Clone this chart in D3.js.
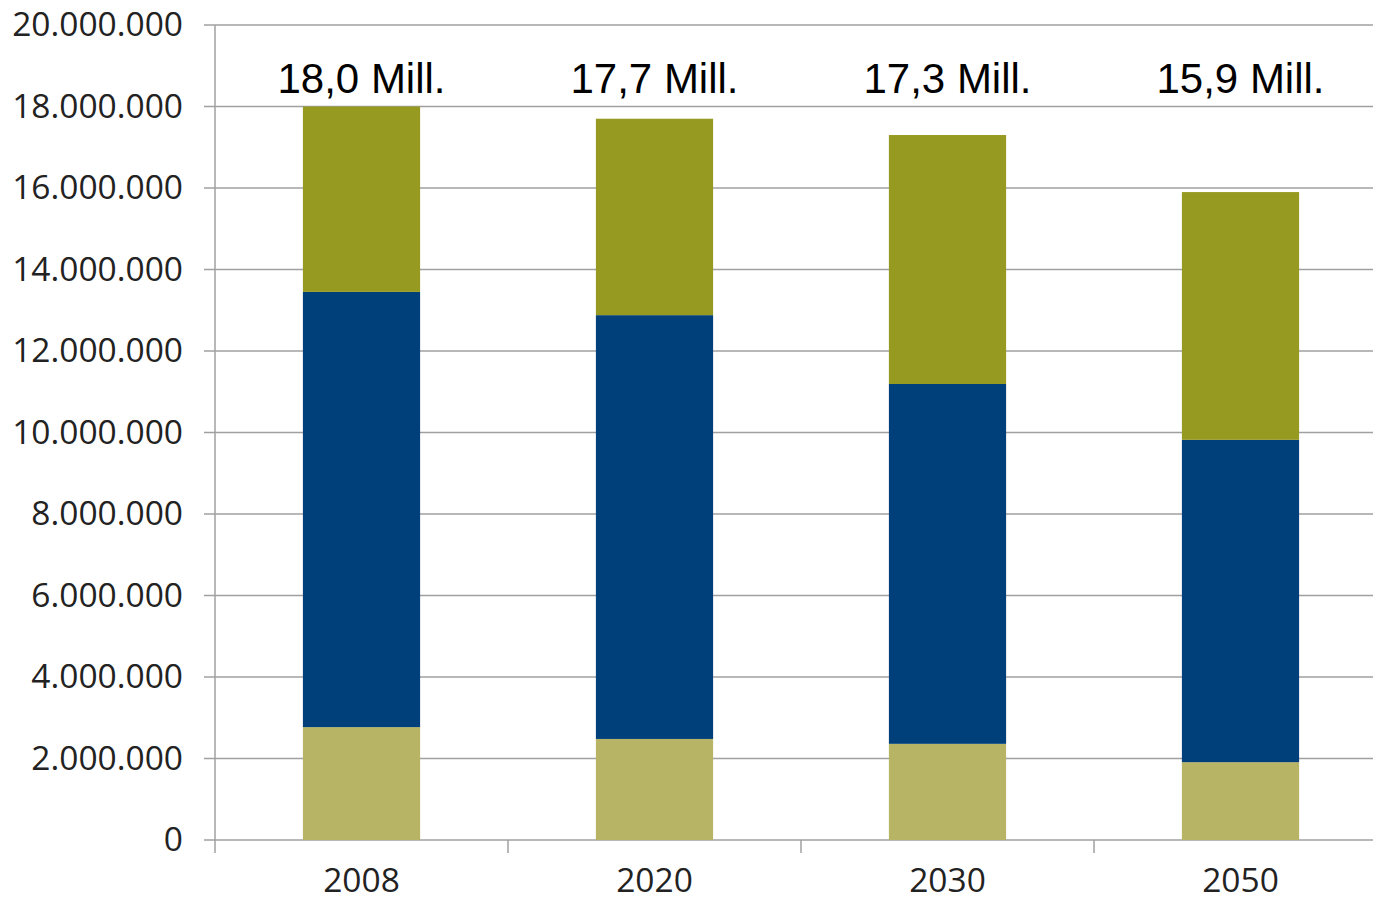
<!DOCTYPE html>
<html>
<head>
<meta charset="utf-8">
<script src="https://cdn.jsdelivr.net/npm/d3@7"></script>
<style>
  body { margin: 0; background: #fff; }
  .tick text { font-family: "Open Sans", sans-serif; font-size: 33.5px; fill: #222; }
  .total { font-family: "Liberation Sans", Arial, sans-serif; font-size: 42px; fill: #000; }
</style>
</head>
<body>
<svg width="1373" height="900"></svg>
<script>
var years = ["2008", "2020", "2030", "2050"];
var lower = [2770000, 2480000, 2360000, 1910000];
var middle = [10680000, 10400000, 8830000, 7910000];
var upper = [4550000, 4820000, 6110000, 6080000];
var totalLabels = ["18,0 Mill.", "17,7 Mill.", "17,3 Mill.", "15,9 Mill."];
var yTicks = [0, 2000000, 4000000, 6000000, 8000000, 10000000, 12000000, 14000000, 16000000, 18000000, 20000000];
var colors = ["#b8b465", "#00407a", "#979a21"];

var svg = d3.select("svg"),
    mLeft = 215, mRight = 1387, mTop = 25, mBottom = 840;

var x = d3.scaleBand()
    .domain(years)
    .range([mLeft, mRight])
    .paddingInner(0.6)
    .paddingOuter(0.3);

var y = d3.scaleLinear()
    .domain([0, 20000000])
    .range([mBottom, mTop]);

var fmt = function(d) { return d3.format(",")(d).replace(/,/g, "."); };

// gridlines
svg.append("g")
    .selectAll("line")
    .data(yTicks)
  .enter().append("line")
    .attr("x1", mLeft - 11)
    .attr("x2", mRight)
    .attr("y1", function(d) { return y(d); })
    .attr("y2", function(d) { return y(d); })
    .attr("stroke", "#a0a0a0")
    .attr("stroke-width", 1.5);

var data = years.map(function(yr, i) {
  return {year: yr, lower: lower[i], middle: middle[i], upper: upper[i]};
});
var stack = d3.stack().keys(["lower", "middle", "upper"])(data);

svg.append("g")
    .selectAll("g")
    .data(stack)
  .enter().append("g")
    .attr("fill", function(d, i) { return colors[i]; })
  .selectAll("rect")
    .data(function(d) { return d; })
  .enter().append("rect")
    .attr("x", function(d) { return x(d.data.year); })
    .attr("width", x.bandwidth())
    .attr("y", function(d) { return y(d[1]); })
    .attr("height", function(d) { return y(d[0]) - y(d[1]); });

// y axis
var yAxis = svg.append("g")
    .attr("transform", "translate(" + mLeft + ",0)")
    .call(d3.axisLeft(y).tickValues(yTicks).tickFormat(fmt).tickSize(0).tickPadding(32));
yAxis.select(".domain").remove();

svg.append("line")
    .attr("x1", mLeft).attr("x2", mLeft)
    .attr("y1", mTop).attr("y2", mBottom + 13)
    .attr("stroke", "#a0a0a0")
    .attr("stroke-width", 1.5);

// x axis
var step = x.step();
svg.append("g")
    .selectAll("line")
    .data(years.slice(1))
  .enter().append("line")
    .attr("x1", function(d) { return x(d) - step * 0.3; })
    .attr("x2", function(d) { return x(d) - step * 0.3; })
    .attr("y1", mBottom)
    .attr("y2", mBottom + 13)
    .attr("stroke", "#a0a0a0")
    .attr("stroke-width", 1.5);

var xAxis = svg.append("g")
    .attr("transform", "translate(0," + mBottom + ")")
    .call(d3.axisBottom(x).tickSize(0).tickPadding(28));
xAxis.select(".domain").remove();

// totals
svg.append("g")
    .selectAll("text")
    .data(years)
  .enter().append("text")
    .attr("class", "total")
    .attr("x", function(d) { return x(d) + x.bandwidth() / 2; })
    .attr("y", 93)
    .attr("text-anchor", "middle")
    .text(function(d, i) { return totalLabels[i]; });
</script>
</body>
</html>
